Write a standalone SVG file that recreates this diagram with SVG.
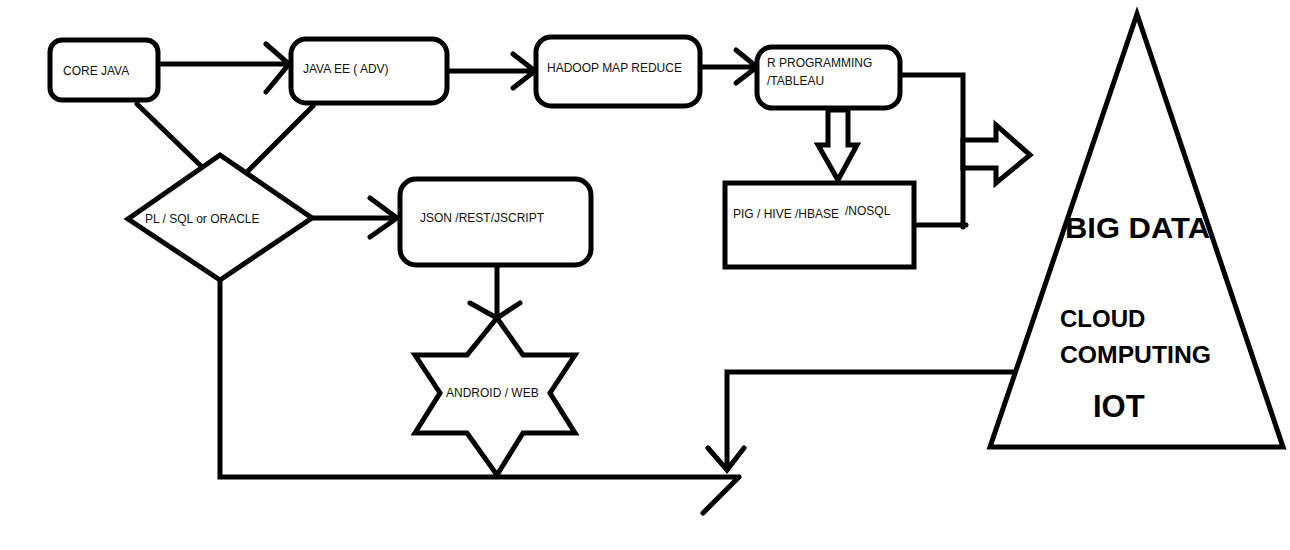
<svg xmlns="http://www.w3.org/2000/svg" width="1290" height="550" viewBox="0 0 1290 550">
<style>
.s{fill:#fff;stroke:#000;stroke-width:5;stroke-linejoin:miter}
.l{fill:none;stroke:#000;stroke-width:5;stroke-linecap:round;stroke-linejoin:miter}
.t{font-family:"Liberation Sans",Arial,sans-serif;font-size:12px;fill:#111}
.b{font-family:"Liberation Sans",Arial,sans-serif;font-weight:bold;fill:#000}
</style>
<rect width="1290" height="550" fill="#fff"/>
<g id="connectors">
<path class="l" d="M160,64 H289 M266,44 L289,64 L266,92"/>
<path class="l" d="M449,71 H535 M513,54 L535,71 L513,88"/>
<path class="l" d="M702,67 H757 M736,50 L757,67 L736,83"/>
<path class="l" d="M137,104 L202,167 M313,106 L247,172"/>
<path class="l" d="M312,218 H397 M370,198 L397,218 L370,237"/>
<path class="l" d="M497,267 V318 M470,303 L497,318 L520,303"/>
<path class="l" d="M902,75 H963 V227 M915,225 H966"/>
<polygon class="s" points="963,140 996,140 996,125 1030,155 996,183 996,168 963,168" stroke-width="4"/>
<polygon class="s" points="828,110 848,110 848,145 857,145 838,180 818,145 828,145"/>
<path class="l" d="M220,280 V477 H739 M739,477 L703,513"/>
<path class="l" d="M1015,372 H727 V470 M708,448 L727,470 L744,448"/>
</g>
<g id="core-java"><rect class="s" x="50" y="40" width="108" height="60" rx="12"/><text class="t" x="63" y="75">CORE JAVA</text></g>
<g id="java-ee"><rect class="s" x="291" y="39" width="156" height="64" rx="15"/><text class="t" x="303" y="73">JAVA EE ( ADV)</text></g>
<g id="hadoop"><rect class="s" x="536" y="37" width="164" height="69" rx="15"/><text class="t" x="547" y="72">HADOOP MAP REDUCE</text></g>
<g id="r-programming"><rect class="s" x="757" y="47" width="143" height="61" rx="15"/><text class="t" x="767" y="67">R PROGRAMMING</text><text class="t" x="767" y="85">/TABLEAU</text></g>
<g id="pig"><rect class="s" x="725" y="183" width="189" height="84"/><text class="t" x="733" y="218">PIG / HIVE /HBASE</text><text class="t" x="845" y="215">/NOSQL</text></g>
<g id="plsql"><polygon class="s" points="220,155 312,218 220,280 128,219"/><text class="t" x="145" y="223">PL / SQL or ORACLE</text></g>
<g id="json"><rect class="s" x="400" y="179" width="191" height="86" rx="16"/><text class="t" x="420" y="222">JSON /REST/JSCRIPT</text></g>
<g id="android"><polygon class="s" points="497,318 523,355 575,355 550,393 575,433 523,433 497,475 467,433 415,433 440,393 415,355 467,355"/><text class="t" x="446" y="397">ANDROID / WEB</text></g>
<g id="big-data"><polygon class="s" stroke-width="4" points="1137,14 1283,447 990,447"/>
<text class="b" x="1065" y="238" font-size="30" textLength="145" lengthAdjust="spacingAndGlyphs">BIG DATA</text>
<text class="b" x="1060" y="327" font-size="24">CLOUD</text>
<text class="b" x="1060" y="363" font-size="24" textLength="151" lengthAdjust="spacingAndGlyphs">COMPUTING</text>
<text class="b" x="1093" y="417" font-size="31">IOT</text></g>
</svg>
